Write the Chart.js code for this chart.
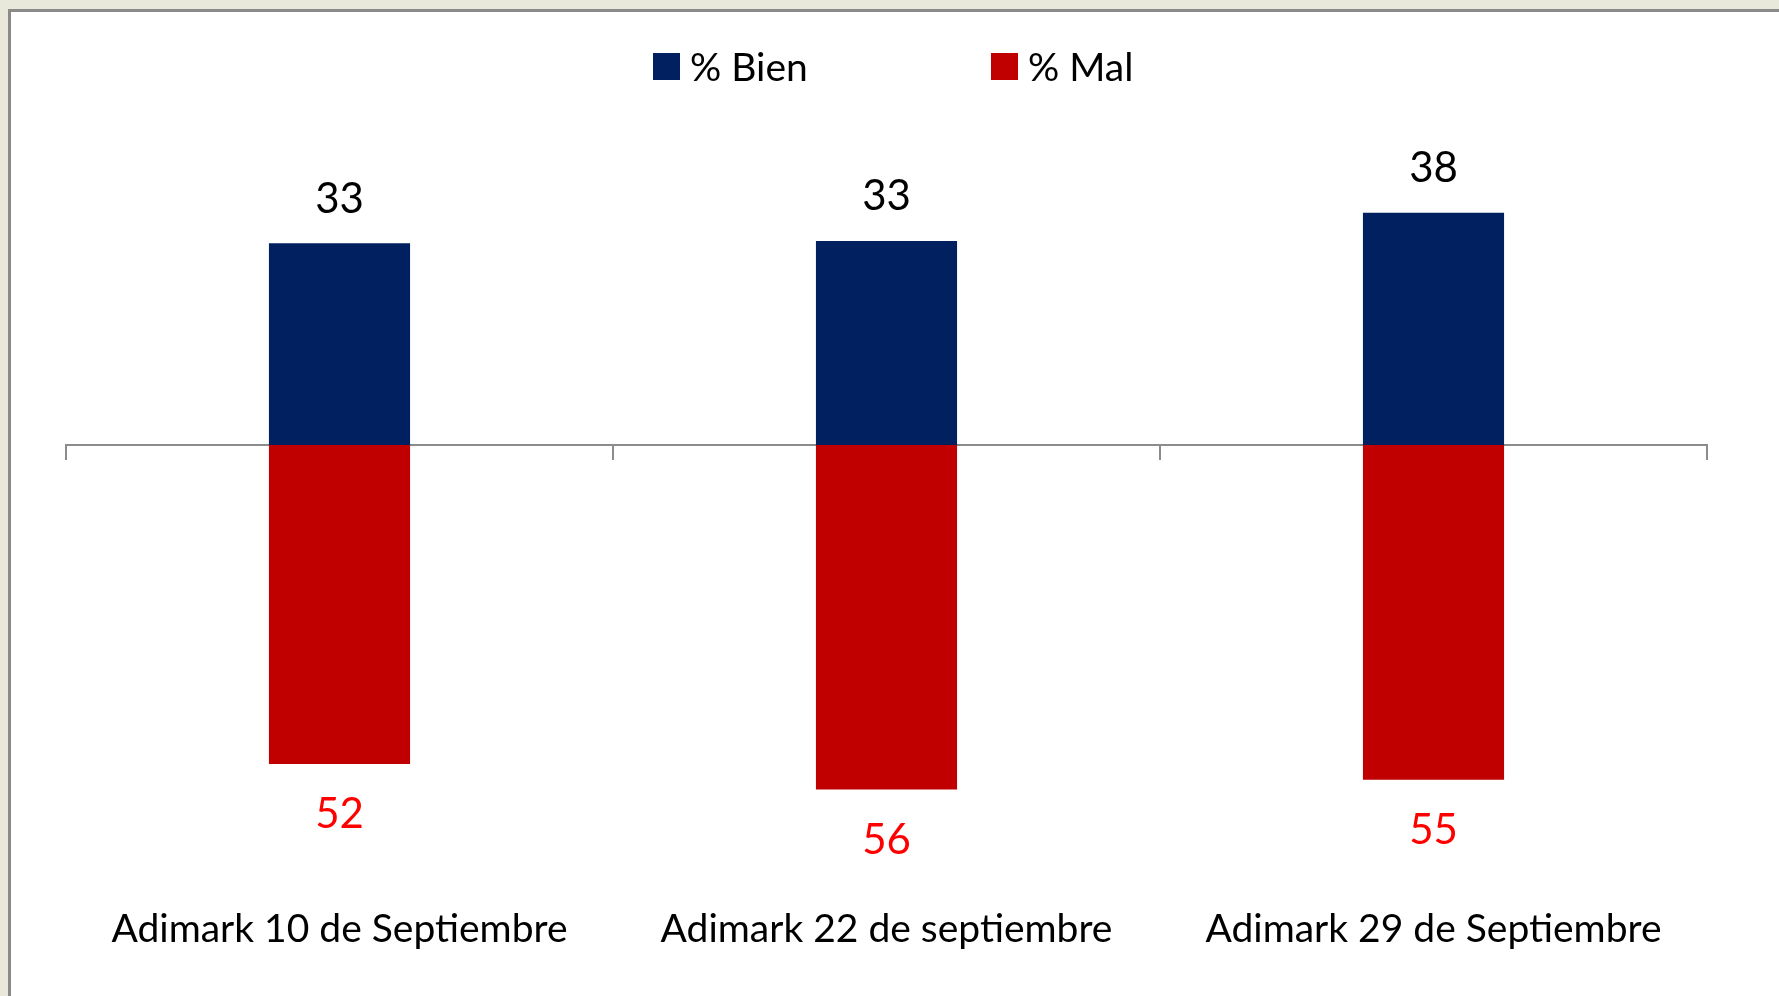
<!DOCTYPE html>
<html>
<head>
<meta charset="utf-8">
<script src="https://cdn.jsdelivr.net/npm/chart.js@4/dist/chart.umd.min.js"></script>
<style>
  html, body { margin: 0; padding: 0; background: #E8E8DB; width: 1779px; height: 996px; overflow: hidden; }
  #panel { position: absolute; left: 8px; top: 9px; width: 1800px; height: 1000px; background: #ffffff;
           border-top: 3px solid #8a8a8a; border-left: 3px solid #8a8a8a; box-sizing: border-box; }
  #wrap { position: absolute; left: 0; top: 0; width: 1779px; height: 996px; }
  #legend { position: absolute; left: 0; top: 46px; height: 40px; width: 1779px; font-family: Lato, sans-serif; font-size: 39px; color: #000; }
  .item { position: absolute; top: 0; height: 40px; display: flex; align-items: center; white-space: nowrap; }
  .box { width: 27px; height: 27px; margin-right: 10px; }
</style>
</head>
<body>
<div id="panel"></div>
<div id="wrap"><canvas id="c"></canvas></div>
<div id="legend"></div>
<script>
// ---- data ----
const categories = ["Adimark 10 de Septiembre", "Adimark 22 de septiembre", "Adimark 29 de Septiembre"];
const seriesNames = ["% Bien", "% Mal"];
const bien = [33, 33.4, 38];
const mal = [52.2, 56.4, 54.8];
const seriesColors = ["#002060", "#C00000"];
const labelColors = ["#000000", "#FF0000"];

const valueLabels = {
  id: 'valueLabels',
  afterDatasetsDraw(chart) {
    const ctx = chart.ctx;
    ctx.save();
    ctx.font = '42px Lato, sans-serif';
    ctx.textAlign = 'center';
    ctx.textBaseline = 'alphabetic';
    chart.data.datasets.forEach((ds, di) => {
      const meta = chart.getDatasetMeta(di);
      meta.data.forEach((el, i) => {
        const v = ds.data[i];
        ctx.fillStyle = labelColors[di];
        const txt = String(Math.round(Math.abs(v)));
        if (v >= 0) ctx.fillText(txt, el.x, el.y - 30.5);
        else ctx.fillText(txt, el.x, el.y + 64);
      });
    });
    ctx.restore();
  }
};

const chart = new Chart(document.getElementById('c'), {
  type: 'bar',
  data: {
    labels: categories,
    datasets: [
      { label: seriesNames[0], data: bien, backgroundColor: seriesColors[0], xAxisID: 'x', yAxisID: 'y' },
      { label: seriesNames[1], data: mal.map(v => -v), backgroundColor: seriesColors[1], xAxisID: 'x', yAxisID: 'y' }
    ]
  },
  options: {
    responsive: true,
    maintainAspectRatio: false,
    animation: false,
    events: [],
    layout: { padding: { left: 66, right: 72, top: 170, bottom: 45 } },
    datasets: { bar: { categoryPercentage: 1, barPercentage: 0.258 } },
    plugins: { legend: { display: false }, tooltip: { enabled: false } },
    scales: {
      y: { stacked: true, min: -73, max: 45, display: false },
      x: {
        stacked: true,
        position: { y: 0 },
        offset: true,
        ticks: { display: false },
        grid: { offset: true, drawOnChartArea: false, drawTicks: true, tickLength: 14, color: '#8c8c8c', lineWidth: 2 },
        border: { display: true, color: '#8c8c8c', width: 2 },
        afterFit(s) { s.height = 0; }
      },
      x2: {
        type: 'category',
        position: 'bottom',
        offset: true,
        grid: { display: false, drawTicks: false },
        border: { display: false },
        ticks: { color: '#000', font: { family: 'Lato, sans-serif', size: 39 }, padding: 15, maxRotation: 0, autoSkip: false },
        afterFit(s) { s.height = 60; }
      }
    }
  },
  plugins: [valueLabels]
});

// HTML legend built from the chart's datasets
const legendEl = document.getElementById('legend');
const lefts = [653, 991];
chart.data.datasets.forEach((ds, i) => {
  const it = document.createElement('div');
  it.className = 'item';
  it.style.left = lefts[i] + 'px';
  const b = document.createElement('span');
  b.className = 'box';
  b.style.background = ds.backgroundColor;
  const t = document.createElement('span');
  t.textContent = ds.label;
  it.appendChild(b); it.appendChild(t);
  legendEl.appendChild(it);
});
</script>
</body>
</html>
